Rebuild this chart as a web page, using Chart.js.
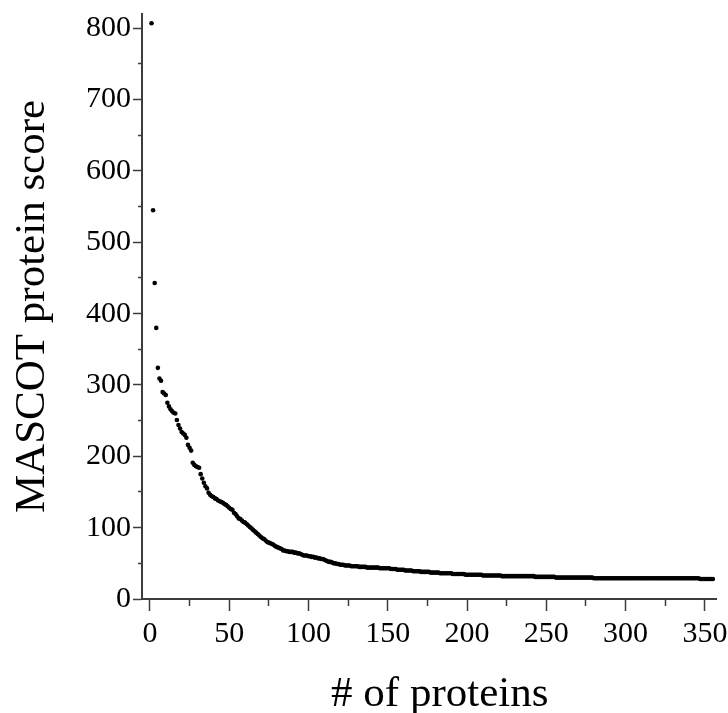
<!DOCTYPE html>
<html>
<head>
<meta charset="utf-8">
<title>MASCOT protein score by rank</title>
<script src="https://cdn.jsdelivr.net/npm/chart.js@4/dist/chart.umd.min.js"></script>
<style>
  html, body { margin: 0; padding: 0; background: #fff; }
  #wrap { width: 728px; height: 713px; }
</style>
</head>
<body>
<div id="wrap"><canvas id="chart" width="728" height="713"></canvas></div>
<script>
// MASCOT score of each identified protein, sorted high to low (rank = position + 1)
const scores = [
  807, 545, 443, 380, 324, 309, 306, 290, 288, 286,
  275, 270, 266, 263, 261, 260, 251, 244, 239, 234,
  232, 230, 226, 216, 212, 208, 191, 188, 186, 185,
  184, 175, 169, 163, 158, 155, 149, 146, 144, 143,
  141, 140, 138, 137, 136, 135, 133, 132, 130, 128,
  126, 125, 121, 119, 116, 113, 112, 110, 108, 107,
  105, 103, 101, 99, 97, 95, 93, 91, 89, 87,
  85, 84, 82, 80, 79, 78, 77, 76, 74, 73,
  72, 71, 70, 68, 68, 67, 67, 66, 66, 66,
  65, 65, 64, 64, 63, 62, 61, 61, 61, 60,
  60, 59, 59, 58, 58, 57, 57, 56, 56, 55,
  54, 53, 52, 52, 51, 50, 50, 49, 49, 48,
  48, 48, 47, 47, 47, 47, 46, 46, 46, 46,
  46, 45, 45, 45, 45, 45, 44, 44, 44, 44,
  44, 44, 44, 44, 43, 43, 43, 43, 43, 43,
  43, 42, 42, 42, 42, 41, 41, 41, 41, 41,
  40, 40, 40, 40, 40, 39, 39, 39, 39, 39,
  38, 38, 38, 38, 38, 38, 37, 37, 37, 37,
  37, 37, 36, 36, 36, 36, 36, 36, 36, 36,
  35, 35, 35, 35, 35, 35, 35, 35, 34, 34,
  34, 34, 34, 34, 34, 34, 34, 34, 34, 33,
  33, 33, 33, 33, 33, 33, 33, 33, 33, 33,
  33, 32, 32, 32, 32, 32, 32, 32, 32, 32,
  32, 32, 32, 32, 32, 32, 32, 32, 32, 32,
  32, 32, 31, 31, 31, 31, 31, 31, 31, 31,
  31, 31, 31, 31, 31, 30, 30, 30, 30, 30,
  30, 30, 30, 30, 30, 30, 30, 30, 30, 30,
  30, 30, 30, 30, 30, 30, 30, 30, 30, 29,
  29, 29, 29, 29, 29, 29, 29, 29, 29, 29,
  29, 29, 29, 29, 29, 29, 29, 29, 29, 29,
  29, 29, 29, 29, 29, 29, 29, 29, 29, 29,
  29, 29, 29, 29, 29, 29, 29, 29, 29, 29,
  29, 29, 29, 29, 29, 29, 29, 29, 29, 29,
  29, 29, 29, 29, 29, 29, 29, 29, 29, 29,
  29, 29, 29, 29, 29, 29, 28, 28, 28, 28,
  28, 28, 28, 28, 28
];

// axis ranges and tick spacing (labelled every other tick)
const xRange = [-5, 357];
const xStep = 25;
const xLabelEvery = 50;
const yRange = [0, 820];
const yStep = 50;
const yLabelEvery = 100;

const xTitle = '  # of proteins';
const yTitle = 'MASCOT protein score';

const serif = "'Liberation Serif', 'Times New Roman', serif";
const axisColor = '#3c3c3c';

const points = scores.map((s, i) => ({ x: i + 1, y: s }));

new Chart(document.getElementById('chart'), {
  type: 'scatter',
  data: {
    datasets: [{
      data: points,
      backgroundColor: '#000',
      borderWidth: 0,
      pointRadius: 2.3,
      pointHoverRadius: 2.3,
    }],
  },
  options: {
    responsive: false,
    animation: false,
    layout: { padding: { top: 14, right: 12, left: 0, bottom: 0 } },
    plugins: { legend: { display: false }, tooltip: { enabled: false } },
    scales: {
      x: {
        type: 'linear',
        min: xRange[0],
        max: xRange[1],
        border: { color: axisColor, width: 2 },
        grid: {
          drawOnChartArea: false,
          tickLength: 12,
          tickColor: axisColor,
          tickWidth: 1.5,
          // short minor ticks: only the 6px next to the axis is drawn
          tickBorderDash: (ctx) => (ctx.tick && ctx.tick.value % xLabelEvery !== 0 ? [6, 100] : []),
        },
        ticks: {
          stepSize: xStep,
          includeBounds: false,
          autoSkip: false,
          maxRotation: 0,
          padding: 5,
          color: '#000',
          font: { family: serif, size: 30 },
          callback: (v) => (v % xLabelEvery === 0 ? String(v) : ''),
        },
        title: {
          display: true,
          text: xTitle,
          color: '#000',
          font: { family: serif, size: 43 },
          padding: { top: 0, bottom: -8 },
        },
        afterFit(scale) {
          scale.height = 114;
          scale.paddingLeft = 0;
          scale.paddingRight = 0;
        },
      },
      y: {
        type: 'linear',
        min: yRange[0],
        max: yRange[1],
        border: { color: axisColor, width: 2 },
        grid: {
          drawOnChartArea: false,
          tickLength: 9,
          tickColor: axisColor,
          tickWidth: 1.5,
          tickBorderDash: (ctx) => (ctx.tick && ctx.tick.value % yLabelEvery !== 0 ? [0, 5, 4, 100] : []),
        },
        ticks: {
          stepSize: yStep,
          includeBounds: false,
          autoSkip: false,
          padding: 2,
          color: '#000',
          font: { family: serif, size: 30 },
          callback: (v) => (v % yLabelEvery === 0 ? String(v) : ''),
        },
        title: {
          display: true,
          text: yTitle,
          color: '#000',
          font: { family: serif, size: 43 },
          padding: { top: 7, bottom: 0 },
        },
        afterFit(scale) {
          scale.width = 142;
          scale.paddingTop = 0;
          scale.paddingBottom = 0;
        },
      },
    },
  },
});
</script>
</body>
</html>
